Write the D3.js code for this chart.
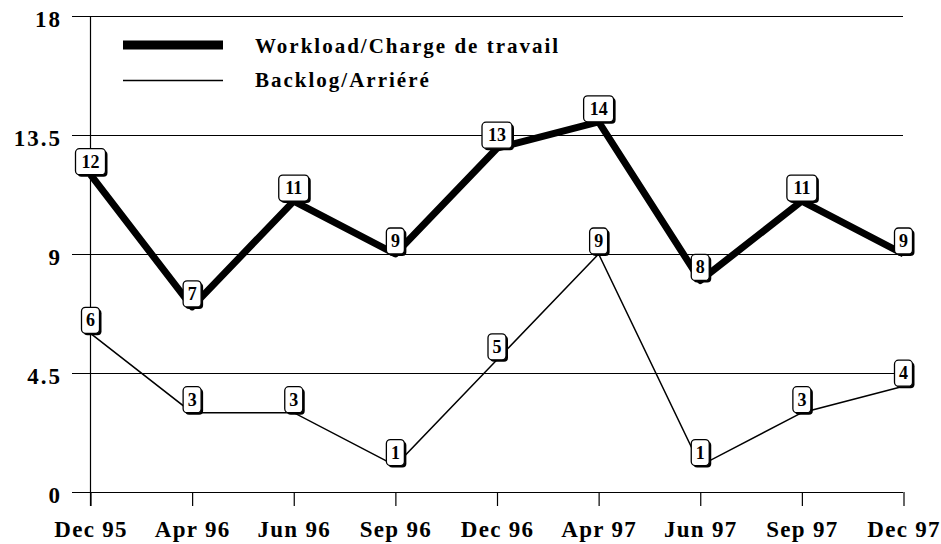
<!DOCTYPE html>
<html>
<head>
<meta charset="utf-8">
<script src="https://cdn.jsdelivr.net/npm/d3@7"></script>
<style>
  html, body { margin: 0; padding: 0; background: #fff; }
  svg { display: block; }
  svg text { font-family: "Liberation Serif", "Times New Roman", Times, "DejaVu Serif", serif; }
</style>
</head>
<body>
<svg id="chart" width="941" height="544"></svg>
<script>
const categories = ["Dec 95", "Apr 96", "Jun 96", "Sep 96", "Dec 96", "Apr 97", "Jun 97", "Sep 97", "Dec 97"];
const workload = [12, 7, 11, 9, 13, 14, 8, 11, 9];
const backlog = [6, 3, 3, 1, 5, 9, 1, 3, 4];
const yTicks = [0, 4.5, 9, 13.5, 18];
const seriesNames = ["Workload/Charge de travail", "Backlog/Arriéré"];

const svg = d3.select("#chart");
const x = d3.scalePoint().domain(categories).range([90.5, 903.5]);
const y = d3.scaleLinear().domain([0, 18]).range([492, 16]);

// horizontal gridlines (extend left as tick marks)
svg.append("g").selectAll("line").data(yTicks).join("line")
  .attr("x1", 72).attr("x2", 903)
  .attr("y1", d => Math.round(y(d)) + 0.5).attr("y2", d => Math.round(y(d)) + 0.5)
  .attr("stroke", "#000").attr("stroke-width", 1);

// y tick labels
svg.append("g").selectAll("text").data(yTicks).join("text")
  .attr("x", 62).attr("y", d => y(d))
  .attr("dy", "0.47em")
  .attr("text-anchor", "end")
  .attr("font-size", 23).attr("font-weight", "bold")
  .attr("letter-spacing", "2px")
  .text(d => d);

// vertical axis line
svg.append("line")
  .attr("x1", x(categories[0])).attr("x2", x(categories[0]))
  .attr("y1", 16).attr("y2", 506)
  .attr("stroke", "#000").attr("stroke-width", 1.2);

// x axis ticks & labels via d3 axis
const xAxis = d3.axisBottom(x).tickSize(14).tickPadding(15);
const gx = svg.append("g").attr("transform", "translate(0,492)").call(xAxis);
gx.attr("font-family", null).attr("font-size", null);
gx.select(".domain").remove();
gx.selectAll(".tick line").attr("stroke", "#000").attr("stroke-width", 1.2);
gx.selectAll(".tick text")
  .attr("fill", "#000")
  .attr("font-size", 23).attr("font-weight", "bold")
  .attr("letter-spacing", "1.3px");

// lines
const line = d3.line().x((d, i) => x(categories[i])).y(d => y(d));
svg.append("path").datum(backlog)
  .attr("d", line).attr("fill", "none").attr("stroke", "#000")
  .attr("stroke-width", 1.5).attr("stroke-linejoin", "miter");
svg.append("path").datum(workload)
  .attr("d", line).attr("fill", "none").attr("stroke", "#000")
  .attr("stroke-width", 7).attr("stroke-linejoin", "round");

// data labels
function labels(data) {
  const g = svg.append("g");
  const items = g.selectAll("g").data(data).join("g")
    .attr("transform", (d, i) => `translate(${x(categories[i])},${y(d)})`);
  items.each(function(d) {
    const w = String(d).length > 1 ? 30 : 18;
    const h = 26;
    const el = d3.select(this);
    el.append("rect")
      .attr("x", -w / 2 + 2).attr("y", -h + 2).attr("width", w).attr("height", h)
      .attr("rx", 4).attr("fill", "#000");
    el.append("rect")
      .attr("x", -w / 2).attr("y", -h).attr("width", w).attr("height", h)
      .attr("rx", 4).attr("fill", "#fff").attr("stroke", "#000").attr("stroke-width", 1.3);
    el.append("text")
      .attr("x", 0).attr("y", -7)
      .attr("text-anchor", "middle")
      .attr("font-size", 18).attr("font-weight", "bold")
      .text(d);
  });
}
labels(workload);
labels(backlog);

// legend
const legend = svg.append("g");
legend.append("line").attr("x1", 123).attr("x2", 223).attr("y1", 45).attr("y2", 45)
  .attr("stroke", "#000").attr("stroke-width", 9);
legend.append("line").attr("x1", 123).attr("x2", 223).attr("y1", 80.5).attr("y2", 80.5)
  .attr("stroke", "#000").attr("stroke-width", 1.5);
legend.append("text").attr("x", 255).attr("y", 53)
  .attr("font-size", 21).attr("font-weight", "bold").attr("letter-spacing", "2px")
  .text(seriesNames[0]);
legend.append("text").attr("x", 255).attr("y", 87)
  .attr("font-size", 21).attr("font-weight", "bold").attr("letter-spacing", "2px")
  .text(seriesNames[1]);
</script>
</body>
</html>
